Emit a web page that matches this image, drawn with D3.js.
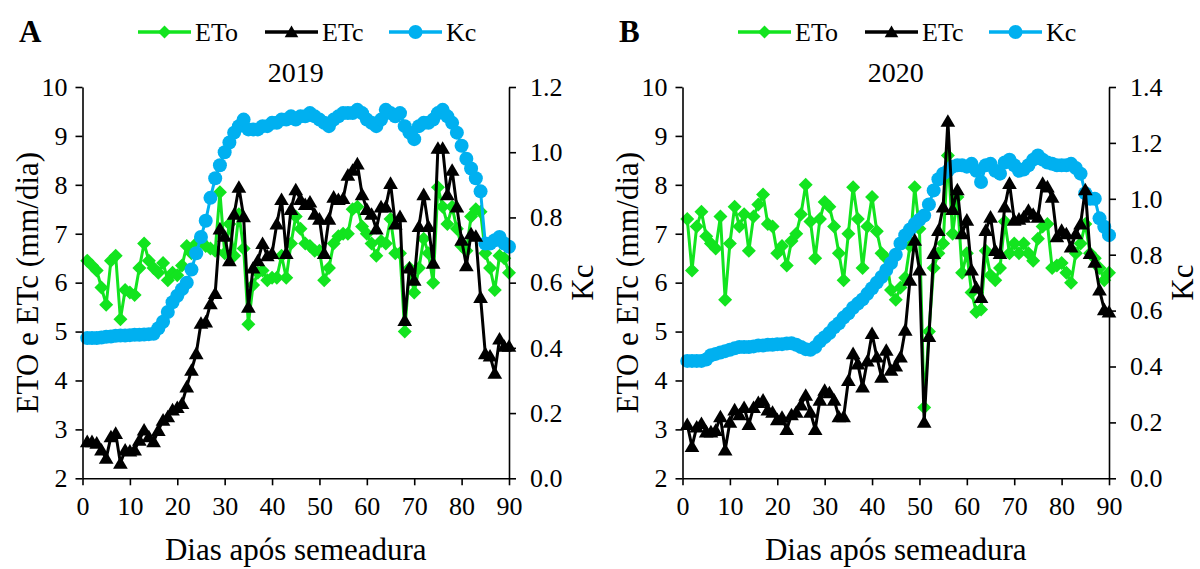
<!DOCTYPE html>
<html>
<head>
<meta charset="utf-8">
<script src="https://cdn.jsdelivr.net/npm/d3@7"></script>
<style>
body { margin: 0; background: #fff; }
svg { font-family: "Liberation Serif", "Times New Roman", serif; }
</style>
</head>
<body>
<svg id="chart" width="1200" height="569"></svg>
<script>
// days after sowing
var days = d3.range(1, 91);

// 2019 (panel A)
var etoA = [6.45,6.35,6.25,5.9,5.55,6.45,6.55,5.25,5.85,5.8,
            5.75,6.3,6.8,6.45,6.3,6.2,6.4,6.05,6.2,6.15,
            6.35,6.75,6.6,6.8,6.85,6.75,6.7,6.65,7.85,6.6,
            7.2,6.55,7.4,6.7,5.15,5.95,6.2,6.25,6.05,6.1,
            6.1,6.55,6.1,6.8,7.35,7.1,6.8,6.75,6.65,6.65,
            6.05,6.3,6.8,6.95,7.0,7.0,7.5,7.55,7.15,7.0,
            6.8,6.55,6.85,6.8,7.3,6.6,6.6,5.0,6.3,5.8,
            6.3,6.9,6.6,6.0,7.95,7.55,7.2,7.55,7.1,6.75,
            6.65,7.35,7.5,7.45,6.6,6.3,5.85,6.55,6.5,6.2];
var etcA = [2.75,2.75,2.72,2.58,2.41,2.85,2.92,2.31,2.58,2.56,
            2.58,2.78,2.99,2.85,2.75,2.98,3.19,3.26,3.4,3.45,
            3.53,3.87,4.21,4.55,5.17,5.2,5.57,5.78,7.1,6.95,
            6.45,7.4,7.95,7.35,5.5,6.3,6.45,6.8,6.55,6.6,
            7.2,7.7,6.6,7.5,7.9,7.7,7.6,7.65,7.4,7.3,
            6.6,7.3,7.75,7.7,7.72,8.2,8.3,8.43,7.8,7.5,
            7.4,7.1,7.55,7.55,8.03,7.2,7.35,5.23,6.3,6.05,
            7.15,7.8,7.15,6.4,8.75,8.75,7.8,8.3,7.55,6.87,
            6.35,7.0,6.95,5.7,4.55,4.5,4.15,4.85,4.7,4.7];
var kcA = [0.43,0.43,0.43,0.432,0.434,0.435,0.437,0.438,0.438,0.439,
           0.44,0.44,0.441,0.442,0.443,0.46,0.48,0.51,0.54,0.56,
           0.58,0.6,0.64,0.69,0.74,0.79,0.86,0.92,0.96,1.0,
           1.03,1.06,1.08,1.1,1.07,1.07,1.07,1.08,1.08,1.09,
           1.09,1.1,1.1,1.11,1.1,1.11,1.11,1.12,1.11,1.1,
           1.09,1.08,1.1,1.11,1.12,1.12,1.12,1.13,1.12,1.1,
           1.09,1.08,1.1,1.13,1.12,1.11,1.12,1.08,1.06,1.04,
           1.08,1.09,1.09,1.1,1.12,1.13,1.11,1.09,1.06,1.02,
           0.98,0.95,0.92,0.88,0.72,0.72,0.73,0.74,0.72,0.71];

// 2020 (panel B)
var etoB = [7.3,6.25,7.15,7.45,6.95,6.8,6.7,7.35,5.65,6.8,
            7.55,7.15,7.4,6.65,7.35,7.6,7.8,7.2,7.15,6.6,
            6.75,6.35,6.85,7.0,7.4,8.0,7.25,6.5,7.3,7.65,
            7.55,7.15,6.6,6.05,7.0,7.95,7.3,6.3,7.15,7.75,
            7.05,6.6,6.5,5.85,5.65,5.9,6.1,6.75,7.95,7.1,
            3.45,5.0,6.3,6.6,6.8,8.6,7.0,7.75,6.2,6.6,
            5.8,5.4,5.45,6.65,6.15,6.05,6.3,7.25,6.6,6.8,
            6.6,6.8,6.6,6.45,6.9,7.15,7.2,6.3,6.35,6.4,
            6.2,6.0,6.6,6.8,7.2,6.6,6.5,6.3,6.05,6.2];
var etcB = [3.1,2.65,3.05,3.12,2.95,2.95,2.98,3.26,2.58,3.15,
            3.4,3.3,3.45,3.1,3.45,3.55,3.6,3.4,3.35,3.2,
            3.25,3.0,3.3,3.35,3.5,3.7,3.35,3.0,3.6,3.8,
            3.75,3.6,3.26,3.26,4.0,4.55,4.34,3.87,4.4,4.96,
            4.48,4.07,4.62,4.21,4.3,4.48,5.03,6.05,6.87,6.26,
            3.15,4.9,6.6,7.07,7.55,9.3,7.5,7.9,7.0,7.28,
            6.26,5.9,5.7,7.07,7.34,6.66,6.6,7.55,8.03,7.28,
            7.3,7.34,7.48,7.4,7.34,8.03,7.96,7.75,6.94,7.07,
            7.0,6.73,7.0,7.2,7.9,6.6,6.42,5.85,5.45,5.4];
var kcB = [0.42,0.42,0.42,0.42,0.425,0.44,0.445,0.45,0.455,0.46,
           0.465,0.47,0.47,0.47,0.472,0.475,0.475,0.478,0.478,0.48,
           0.48,0.482,0.483,0.478,0.47,0.462,0.46,0.47,0.49,0.505,
           0.52,0.54,0.555,0.575,0.59,0.61,0.625,0.64,0.66,0.68,
           0.7,0.72,0.745,0.77,0.8,0.84,0.87,0.89,0.91,0.925,
           0.94,0.98,1.03,1.07,1.09,1.1,1.115,1.12,1.12,1.115,
           1.125,1.1,1.06,1.12,1.125,1.1,1.09,1.13,1.14,1.12,
           1.1,1.105,1.12,1.14,1.155,1.14,1.13,1.125,1.12,1.12,
           1.12,1.125,1.11,1.09,1.02,1.0,1.0,0.93,0.9,0.87];

var xTicks = [0, 10, 20, 30, 40, 50, 60, 70, 80, 90];
var etTicks = [2, 3, 4, 5, 6, 7, 8, 9, 10];
var kcTicksA = [0, 0.2, 0.4, 0.6, 0.8, 1.0, 1.2];
var kcTicksB = [0, 0.2, 0.4, 0.6, 0.8, 1.0, 1.2, 1.4];

var green = "#12e41f", black = "#000000", blue = "#00b0f0";

var svg = d3.select("#chart");

var diamond = function(s) { return "M0," + (-s) + "L" + s + ",0L0," + s + "L" + (-s) + ",0Z"; };
var triangle = function(s) { return "M0," + (-s) + "L" + (s * 1.05) + "," + (s * 0.8) + "L" + (-s * 1.05) + "," + (s * 0.8) + "Z"; };

function drawPanel(ox, letter, year, eto, etc, kc, kcMax, kcTicks) {
	var left = ox + 82.5, right = ox + 509, top = 87, bottom = 478.3;
	var g = svg.append("g");

	var x = d3.scaleLinear().domain([0, 90]).range([left, right]);
	var y = d3.scaleLinear().domain([2, 10]).range([bottom, top]);
	var y2 = d3.scaleLinear().domain([0, kcMax]).range([bottom, top]);

	var line1 = d3.line().x(function(d, i) { return x(days[i]); }).y(function(d) { return y(d); });
	var line2 = d3.line().x(function(d, i) { return x(days[i]); }).y(function(d) { return y2(d); });

	// ETo
	g.append("path").datum(eto).attr("d", line1)
		.attr("fill", "none").attr("stroke", green).attr("stroke-width", 3);
	g.append("g").selectAll("path").data(eto).enter().append("path")
		.attr("transform", function(d, i) { return "translate(" + x(days[i]) + "," + y(d) + ")"; })
		.attr("d", diamond(7)).attr("fill", green);

	// Kc
	g.append("path").datum(kc).attr("d", line2)
		.attr("fill", "none").attr("stroke", blue).attr("stroke-width", 3);
	g.append("g").selectAll("circle").data(kc).enter().append("circle")
		.attr("cx", function(d, i) { return x(days[i]); })
		.attr("cy", function(d) { return y2(d); })
		.attr("r", 7).attr("fill", blue);

	// ETc
	g.append("path").datum(etc).attr("d", line1)
		.attr("fill", "none").attr("stroke", black).attr("stroke-width", 3);
	g.append("g").selectAll("path").data(etc).enter().append("path")
		.attr("transform", function(d, i) { return "translate(" + x(days[i]) + "," + y(d) + ")"; })
		.attr("d", triangle(7)).attr("fill", black);

	// axes
	var ax = g.append("g").attr("transform", "translate(0," + bottom + ")")
		.call(d3.axisBottom(x).tickValues(xTicks).tickSize(7).tickSizeOuter(0).tickPadding(11));
	var ay = g.append("g").attr("transform", "translate(" + left + ",0)")
		.call(d3.axisLeft(y).tickValues(etTicks).tickSize(7).tickSizeOuter(0).tickPadding(8));
	var ay2 = g.append("g").attr("transform", "translate(" + right + ",0)")
		.call(d3.axisRight(y2).tickValues(kcTicks).tickSize(7).tickSizeOuter(0).tickPadding(14)
			.tickFormat(d3.format(".1f")));
	[ax, ay, ay2].forEach(function(a) {
		a.attr("font-family", null).attr("font-size", 26);
		a.selectAll("path, line").attr("stroke", "#000").attr("stroke-width", 1.6);
		a.selectAll("text").attr("fill", "#000");
	});

	// titles
	g.append("text").attr("x", (left + right) / 2).attr("y", 560)
		.attr("text-anchor", "middle").attr("font-size", 31).text("Dias após semeadura");
	g.append("text").attr("transform", "translate(" + (ox + 38) + "," + ((top + bottom) / 2) + ") rotate(-90)")
		.attr("text-anchor", "middle").attr("font-size", 31).text("ETO e ETc (mm/dia)");
	g.append("text").attr("transform", "translate(" + (ox + 593) + "," + ((top + bottom) / 2) + ") rotate(-90)")
		.attr("text-anchor", "middle").attr("font-size", 31).text("Kc");
	g.append("text").attr("x", (left + right) / 2).attr("y", 82)
		.attr("text-anchor", "middle").attr("font-size", 28).text(year);
	g.append("text").attr("x", ox + 19).attr("y", 42)
		.attr("font-size", 31).attr("font-weight", "bold").text(letter);

	// legend
	var leg = g.append("g").attr("font-size", 26);
	var items = [
		{name: "ETo", color: green, x0: 138, mark: "d"},
		{name: "ETc", color: black, x0: 265, mark: "t"},
		{name: "Kc", color: blue, x0: 389, mark: "c"}
	];
	items.forEach(function(it) {
		var lx = ox + it.x0, ly = 32;
		leg.append("line").attr("x1", lx).attr("x2", lx + 53).attr("y1", ly).attr("y2", ly)
			.attr("stroke", it.color).attr("stroke-width", 3.5);
		if (it.mark === "c") {
			leg.append("circle").attr("cx", lx + 26.5).attr("cy", ly).attr("r", 7).attr("fill", it.color);
		} else {
			leg.append("path").attr("transform", "translate(" + (lx + 26.5) + "," + ly + ")")
				.attr("d", it.mark === "d" ? diamond(6.5) : triangle(6.5)).attr("fill", it.color);
		}
		leg.append("text").attr("x", lx + 57).attr("y", ly + 9).text(it.name);
	});
}

drawPanel(0, "A", "2019", etoA, etcA, kcA, 1.2, kcTicksA);
drawPanel(600, "B", "2020", etoB, etcB, kcB, 1.4, kcTicksB);
</script>
</body>
</html>
